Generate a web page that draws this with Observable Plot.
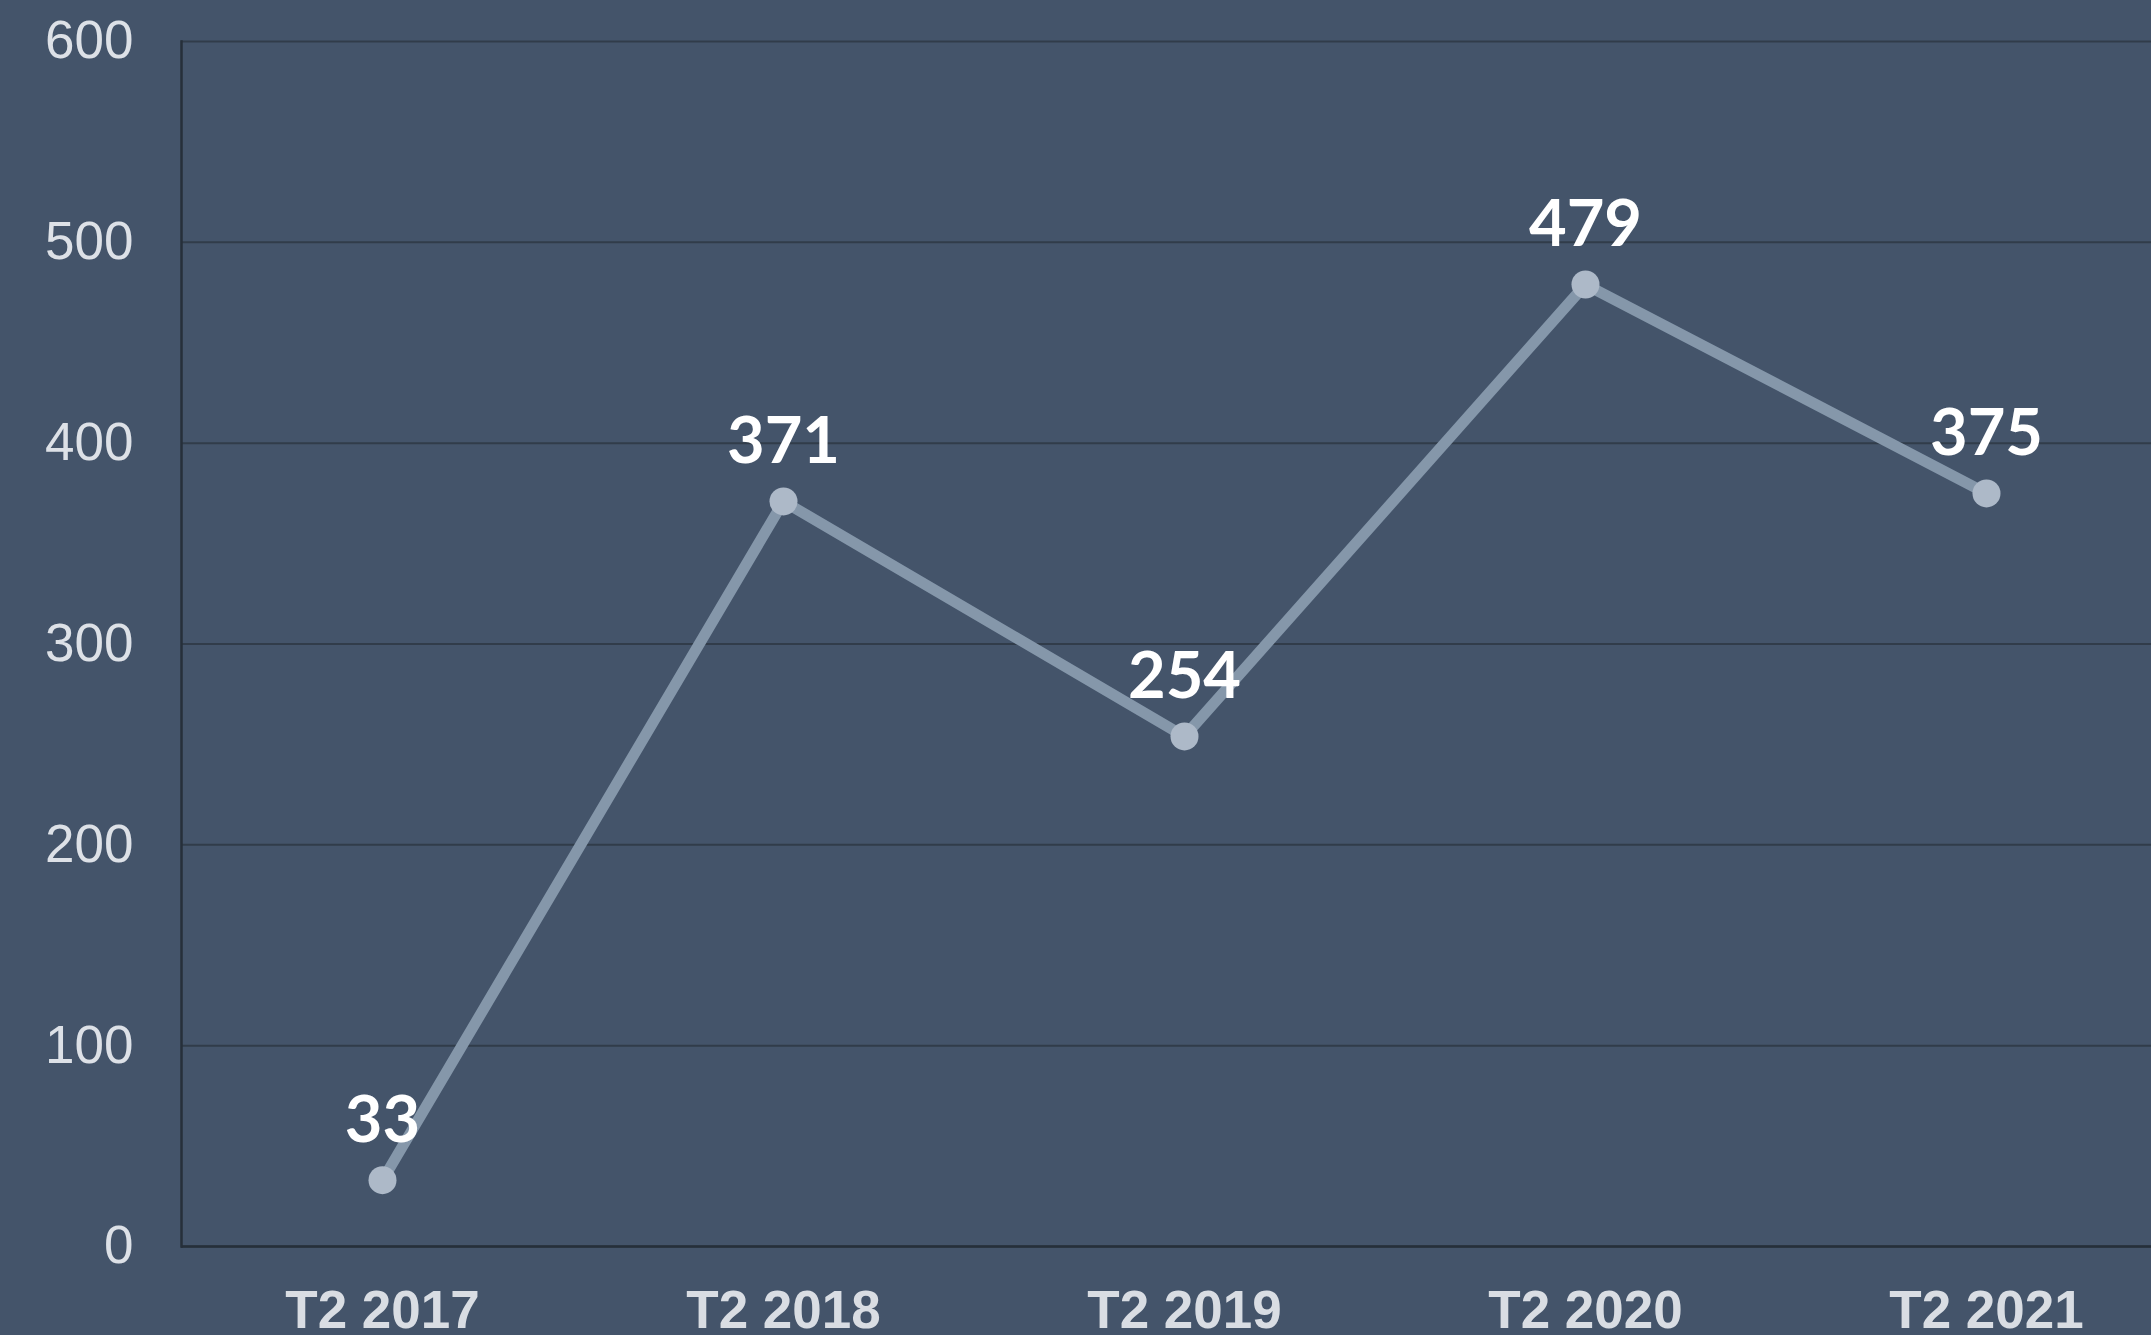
<!DOCTYPE html>
<html>
<head>
<meta charset="utf-8">
<script src="https://cdn.jsdelivr.net/npm/d3@7"></script>
<script src="https://cdn.jsdelivr.net/npm/@observablehq/plot@0.6"></script>
<style>
  html, body { margin: 0; padding: 0; background: #44546a; overflow: hidden; }
  #chart svg { display: block; }
</style>
</head>
<body>
<div id="chart"></div>
<script>
const periods = ["T2 2017", "T2 2018", "T2 2019", "T2 2020", "T2 2021"];
const values = [33, 371, 254, 479, 375];
const yTicks = [0, 100, 200, 300, 400, 500, 600];

const data = periods.map((p, i) => ({period: p, value: values[i]}));

const chart = Plot.plot({
  width: 2151,
  height: 1335,
  marginLeft: 181,
  marginRight: -35,
  marginTop: 41,
  marginBottom: 89,
  style: {background: "#44546a"},
  x: {type: "point", domain: periods, padding: 0.5},
  y: {domain: [0, 600]},
  marks: [
    Plot.gridY(yTicks, {stroke: "#313c4a", strokeOpacity: 1, strokeWidth: 2}),
    Plot.ruleY([0], {stroke: "#262f3a", strokeWidth: 2.5}),
    Plot.frame({anchor: "left", stroke: "#262f3a", strokeWidth: 2.5}),
    Plot.axisY(yTicks, {tickSize: 0, tickPadding: 48, fontSize: 53, fill: "#dde1e7",
      fontFamily: "Liberation Sans, Arial, sans-serif", label: null}),
    Plot.axisX({tickSize: 0, tickPadding: 44, fontSize: 53, fontWeight: "bold", fill: "#d9dde3",
      fontFamily: "Liberation Sans, Arial, sans-serif", label: null}),
    Plot.line(data, {x: "period", y: "value", stroke: "#8597aa", strokeWidth: 11}),
    Plot.dot(data, {x: "period", y: "value", r: 14, fill: "#adb9c8", stroke: "none"}),
    Plot.text(data, {x: "period", y: "value", text: d => String(d.value), dy: -59,
      fontSize: 65, fontWeight: "bold", fill: "#ffffff", fontFamily: "Lato, sans-serif"})
  ]
});
document.getElementById("chart").appendChild(chart);
</script>
</body>
</html>
